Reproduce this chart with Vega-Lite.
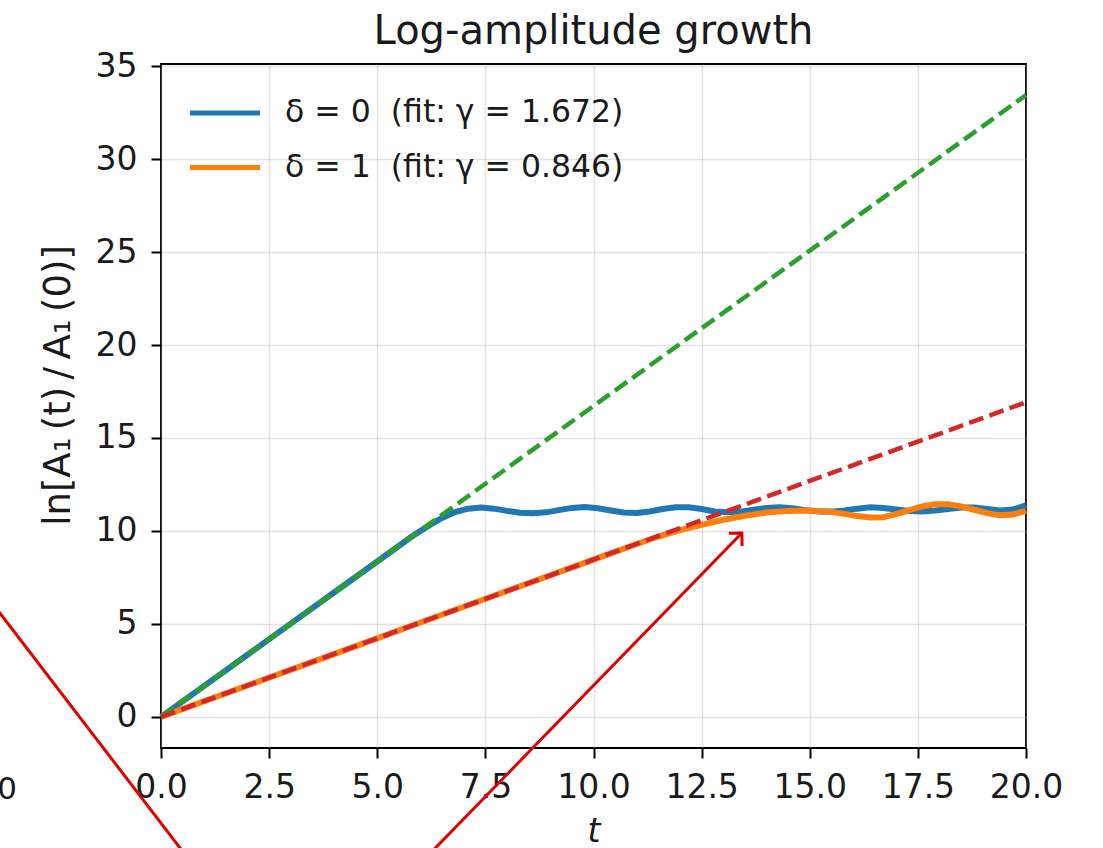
{
  "$schema": "https://vega.github.io/schema/vega-lite/v6.json",
  "width": 865,
  "height": 684,
  "autosize": {"type": "none"},
  "padding": {"left": 161, "top": 64, "right": 77, "bottom": 100},
  "background": "white",
  "title": {"text": "Log-amplitude growth", "fontSize": 40, "font": "DejaVu Sans", "fontWeight": "normal", "color": "#1a1a1a", "anchor": "middle", "offset": 0, "baseline": "bottom", "dy": 42},
  "config": {
    "view": {"stroke": "black", "strokeWidth": 2},
    "axis": {"labelFont": "DejaVu Sans", "labelFontSize": 33, "labelColor": "#1a1a1a", "labelOverlap": false, "labelFlush": false, "labelBound": false, "titleFont": "DejaVu Sans", "titleFontWeight": "normal", "titleColor": "#1a1a1a", "tickColor": "black", "tickWidth": 2, "tickSize": 10, "domain": false, "gridColor": "#b0b0b0", "gridOpacity": 0.35, "gridWidth": 1.5}
  },
  "datasets": {
    "curves": [
      {"t": 0, "v": 0, "s": "δ = 0\u00a0 (fit: γ = 1.672)"},
      {"t": 1, "v": 1.67, "s": "δ = 0\u00a0 (fit: γ = 1.672)"},
      {"t": 2, "v": 3.34, "s": "δ = 0\u00a0 (fit: γ = 1.672)"},
      {"t": 3, "v": 5.02, "s": "δ = 0\u00a0 (fit: γ = 1.672)"},
      {"t": 4, "v": 6.69, "s": "δ = 0\u00a0 (fit: γ = 1.672)"},
      {"t": 5, "v": 8.36, "s": "δ = 0\u00a0 (fit: γ = 1.672)"},
      {"t": 5.8, "v": 9.7, "s": "δ = 0\u00a0 (fit: γ = 1.672)"},
      {"t": 6.2, "v": 10.3, "s": "δ = 0\u00a0 (fit: γ = 1.672)"},
      {"t": 6.5, "v": 10.7, "s": "δ = 0\u00a0 (fit: γ = 1.672)"},
      {"t": 6.8, "v": 11.02, "s": "δ = 0\u00a0 (fit: γ = 1.672)"},
      {"t": 7.1, "v": 11.2, "s": "δ = 0\u00a0 (fit: γ = 1.672)"},
      {"t": 7.4, "v": 11.26, "s": "δ = 0\u00a0 (fit: γ = 1.672)"},
      {"t": 7.7, "v": 11.2, "s": "δ = 0\u00a0 (fit: γ = 1.672)"},
      {"t": 8.0, "v": 11.08, "s": "δ = 0\u00a0 (fit: γ = 1.672)"},
      {"t": 8.3, "v": 10.98, "s": "δ = 0\u00a0 (fit: γ = 1.672)"},
      {"t": 8.6, "v": 10.95, "s": "δ = 0\u00a0 (fit: γ = 1.672)"},
      {"t": 8.9, "v": 11.0, "s": "δ = 0\u00a0 (fit: γ = 1.672)"},
      {"t": 9.2, "v": 11.12, "s": "δ = 0\u00a0 (fit: γ = 1.672)"},
      {"t": 9.5, "v": 11.24, "s": "δ = 0\u00a0 (fit: γ = 1.672)"},
      {"t": 9.8, "v": 11.29, "s": "δ = 0\u00a0 (fit: γ = 1.672)"},
      {"t": 10.1, "v": 11.22, "s": "δ = 0\u00a0 (fit: γ = 1.672)"},
      {"t": 10.4, "v": 11.1, "s": "δ = 0\u00a0 (fit: γ = 1.672)"},
      {"t": 10.7, "v": 10.99, "s": "δ = 0\u00a0 (fit: γ = 1.672)"},
      {"t": 11.0, "v": 10.97, "s": "δ = 0\u00a0 (fit: γ = 1.672)"},
      {"t": 11.3, "v": 11.05, "s": "δ = 0\u00a0 (fit: γ = 1.672)"},
      {"t": 11.6, "v": 11.18, "s": "δ = 0\u00a0 (fit: γ = 1.672)"},
      {"t": 11.9, "v": 11.28, "s": "δ = 0\u00a0 (fit: γ = 1.672)"},
      {"t": 12.2, "v": 11.28, "s": "δ = 0\u00a0 (fit: γ = 1.672)"},
      {"t": 12.5, "v": 11.18, "s": "δ = 0\u00a0 (fit: γ = 1.672)"},
      {"t": 12.8, "v": 11.05, "s": "δ = 0\u00a0 (fit: γ = 1.672)"},
      {"t": 13.1, "v": 11.0, "s": "δ = 0\u00a0 (fit: γ = 1.672)"},
      {"t": 13.4, "v": 11.04, "s": "δ = 0\u00a0 (fit: γ = 1.672)"},
      {"t": 13.7, "v": 11.14, "s": "δ = 0\u00a0 (fit: γ = 1.672)"},
      {"t": 14.0, "v": 11.24, "s": "δ = 0\u00a0 (fit: γ = 1.672)"},
      {"t": 14.3, "v": 11.28, "s": "δ = 0\u00a0 (fit: γ = 1.672)"},
      {"t": 14.6, "v": 11.22, "s": "δ = 0\u00a0 (fit: γ = 1.672)"},
      {"t": 14.9, "v": 11.12, "s": "δ = 0\u00a0 (fit: γ = 1.672)"},
      {"t": 15.2, "v": 11.05, "s": "δ = 0\u00a0 (fit: γ = 1.672)"},
      {"t": 15.5, "v": 11.04, "s": "δ = 0\u00a0 (fit: γ = 1.672)"},
      {"t": 15.8, "v": 11.1, "s": "δ = 0\u00a0 (fit: γ = 1.672)"},
      {"t": 16.1, "v": 11.2, "s": "δ = 0\u00a0 (fit: γ = 1.672)"},
      {"t": 16.4, "v": 11.27, "s": "δ = 0\u00a0 (fit: γ = 1.672)"},
      {"t": 16.7, "v": 11.24, "s": "δ = 0\u00a0 (fit: γ = 1.672)"},
      {"t": 17.0, "v": 11.15, "s": "δ = 0\u00a0 (fit: γ = 1.672)"},
      {"t": 17.3, "v": 11.07, "s": "δ = 0\u00a0 (fit: γ = 1.672)"},
      {"t": 17.6, "v": 11.05, "s": "δ = 0\u00a0 (fit: γ = 1.672)"},
      {"t": 17.9, "v": 11.1, "s": "δ = 0\u00a0 (fit: γ = 1.672)"},
      {"t": 18.2, "v": 11.18, "s": "δ = 0\u00a0 (fit: γ = 1.672)"},
      {"t": 18.5, "v": 11.26, "s": "δ = 0\u00a0 (fit: γ = 1.672)"},
      {"t": 18.8, "v": 11.26, "s": "δ = 0\u00a0 (fit: γ = 1.672)"},
      {"t": 19.1, "v": 11.18, "s": "δ = 0\u00a0 (fit: γ = 1.672)"},
      {"t": 19.4, "v": 11.1, "s": "δ = 0\u00a0 (fit: γ = 1.672)"},
      {"t": 19.7, "v": 11.15, "s": "δ = 0\u00a0 (fit: γ = 1.672)"},
      {"t": 20.0, "v": 11.38, "s": "δ = 0\u00a0 (fit: γ = 1.672)"},
      {"t": 0, "v": 0, "s": "δ = 1\u00a0 (fit: γ = 0.846)"},
      {"t": 2, "v": 1.69, "s": "δ = 1\u00a0 (fit: γ = 0.846)"},
      {"t": 4, "v": 3.38, "s": "δ = 1\u00a0 (fit: γ = 0.846)"},
      {"t": 6, "v": 5.08, "s": "δ = 1\u00a0 (fit: γ = 0.846)"},
      {"t": 8, "v": 6.77, "s": "δ = 1\u00a0 (fit: γ = 0.846)"},
      {"t": 10, "v": 8.46, "s": "δ = 1\u00a0 (fit: γ = 0.846)"},
      {"t": 11, "v": 9.3, "s": "δ = 1\u00a0 (fit: γ = 0.846)"},
      {"t": 11.5, "v": 9.7, "s": "δ = 1\u00a0 (fit: γ = 0.846)"},
      {"t": 12, "v": 10.05, "s": "δ = 1\u00a0 (fit: γ = 0.846)"},
      {"t": 12.5, "v": 10.33, "s": "δ = 1\u00a0 (fit: γ = 0.846)"},
      {"t": 13, "v": 10.6, "s": "δ = 1\u00a0 (fit: γ = 0.846)"},
      {"t": 13.5, "v": 10.82, "s": "δ = 1\u00a0 (fit: γ = 0.846)"},
      {"t": 14, "v": 10.99, "s": "δ = 1\u00a0 (fit: γ = 0.846)"},
      {"t": 14.5, "v": 11.08, "s": "δ = 1\u00a0 (fit: γ = 0.846)"},
      {"t": 15, "v": 11.1, "s": "δ = 1\u00a0 (fit: γ = 0.846)"},
      {"t": 15.5, "v": 11.02, "s": "δ = 1\u00a0 (fit: γ = 0.846)"},
      {"t": 15.8, "v": 10.92, "s": "δ = 1\u00a0 (fit: γ = 0.846)"},
      {"t": 16.1, "v": 10.8, "s": "δ = 1\u00a0 (fit: γ = 0.846)"},
      {"t": 16.4, "v": 10.72, "s": "δ = 1\u00a0 (fit: γ = 0.846)"},
      {"t": 16.7, "v": 10.74, "s": "δ = 1\u00a0 (fit: γ = 0.846)"},
      {"t": 17.0, "v": 10.9, "s": "δ = 1\u00a0 (fit: γ = 0.846)"},
      {"t": 17.3, "v": 11.12, "s": "δ = 1\u00a0 (fit: γ = 0.846)"},
      {"t": 17.6, "v": 11.32, "s": "δ = 1\u00a0 (fit: γ = 0.846)"},
      {"t": 17.9, "v": 11.44, "s": "δ = 1\u00a0 (fit: γ = 0.846)"},
      {"t": 18.2, "v": 11.44, "s": "δ = 1\u00a0 (fit: γ = 0.846)"},
      {"t": 18.5, "v": 11.32, "s": "δ = 1\u00a0 (fit: γ = 0.846)"},
      {"t": 18.8, "v": 11.14, "s": "δ = 1\u00a0 (fit: γ = 0.846)"},
      {"t": 19.1, "v": 10.96, "s": "δ = 1\u00a0 (fit: γ = 0.846)"},
      {"t": 19.4, "v": 10.85, "s": "δ = 1\u00a0 (fit: γ = 0.846)"},
      {"t": 19.7, "v": 10.88, "s": "δ = 1\u00a0 (fit: γ = 0.846)"},
      {"t": 20.0, "v": 11.08, "s": "δ = 1\u00a0 (fit: γ = 0.846)"}
    ],
    "fit0": [{"t": 0, "v": 0}, {"t": 20, "v": 33.44}],
    "fit1": [{"t": 0, "v": 0}, {"t": 20, "v": 16.92}],
    "arrows": [
      {"t": -4.19, "v": 6.99, "t2": 0.83, "v2": -8.23},
      {"t": 5.85, "v": -8.23, "t2": 13.43, "v2": 9.89}
    ],
    "head": [{"t": 13.43, "v": 9.89}],
    "stray": [{"t": -3.33, "v": -4.41, "label": "0"}]
  },
  "encoding": {
    "x": {"field": "t", "type": "quantitative",
      "scale": {"domain": [0, 20], "nice": false, "zero": false},
      "axis": {"values": [0, 2.5, 5, 7.5, 10, 12.5, 15, 17.5, 20], "format": ".1f", "title": "t", "titleFontStyle": "italic", "titleFontSize": 33, "labelPadding": 13, "titlePadding": 11}},
    "y": {"field": "v", "type": "quantitative",
      "scale": {"domain": [-1.672, 35.112], "nice": false, "zero": false},
      "axis": {"values": [0, 5, 10, 15, 20, 25, 30, 35], "title": "ln[A₁\u2009(t)\u2009/\u2009A₁\u2009(0)]", "titleFontSize": 37, "labelPadding": 14, "titlePadding": 18, "titleY": 321}}
  },
  "layer": [
    {
      "data": {"name": "curves"},
      "mark": {"type": "line", "strokeWidth": 6, "strokeCap": "butt"},
      "encoding": {
        "color": {"field": "s", "type": "nominal",
          "scale": {"domain": ["δ = 0\u00a0 (fit: γ = 1.672)", "δ = 1\u00a0 (fit: γ = 0.846)"], "range": ["#1f77b4", "#ff7f0e"]},
          "legend": {"orient": "none", "legendX": 44, "legendY": 29, "title": null, "symbolType": "M-2,0H2", "symbolSize": 1225, "symbolStrokeWidth": 5, "labelFontSize": 31.5, "labelFont": "DejaVu Sans", "labelColor": "#1a1a1a", "labelOffset": 40, "labelLimit": 600, "rowPadding": 18.5, "padding": 0}}
      }
    },
    {
      "data": {"name": "fit0"},
      "mark": {"type": "line", "color": "#2ca02c", "strokeWidth": 4.5, "strokeDash": [15, 6.5]},
      "encoding": {}
    },
    {
      "data": {"name": "fit1"},
      "mark": {"type": "line", "color": "#d62728", "strokeWidth": 4.5, "strokeDash": [15, 6.5]},
      "encoding": {}
    },
    {
      "data": {"name": "arrows"},
      "mark": {"type": "rule", "color": "#e00000", "strokeWidth": 3},
      "encoding": {"x2": {"field": "t2"}, "y2": {"field": "v2"}}
    },
    {
      "data": {"name": "head"},
      "mark": {"type": "point", "shape": "M-1,1L0,0L1,1", "size": 340, "angle": 44, "filled": false, "stroke": "#e00000", "strokeWidth": 3, "opacity": 1},
      "encoding": {}
    },
    {
      "data": {"name": "stray"},
      "mark": {"type": "text", "align": "right", "baseline": "alphabetic", "font": "DejaVu Sans", "fontSize": 31, "color": "#1a1a1a"},
      "encoding": {"text": {"field": "label"}}
    }
  ]
}
